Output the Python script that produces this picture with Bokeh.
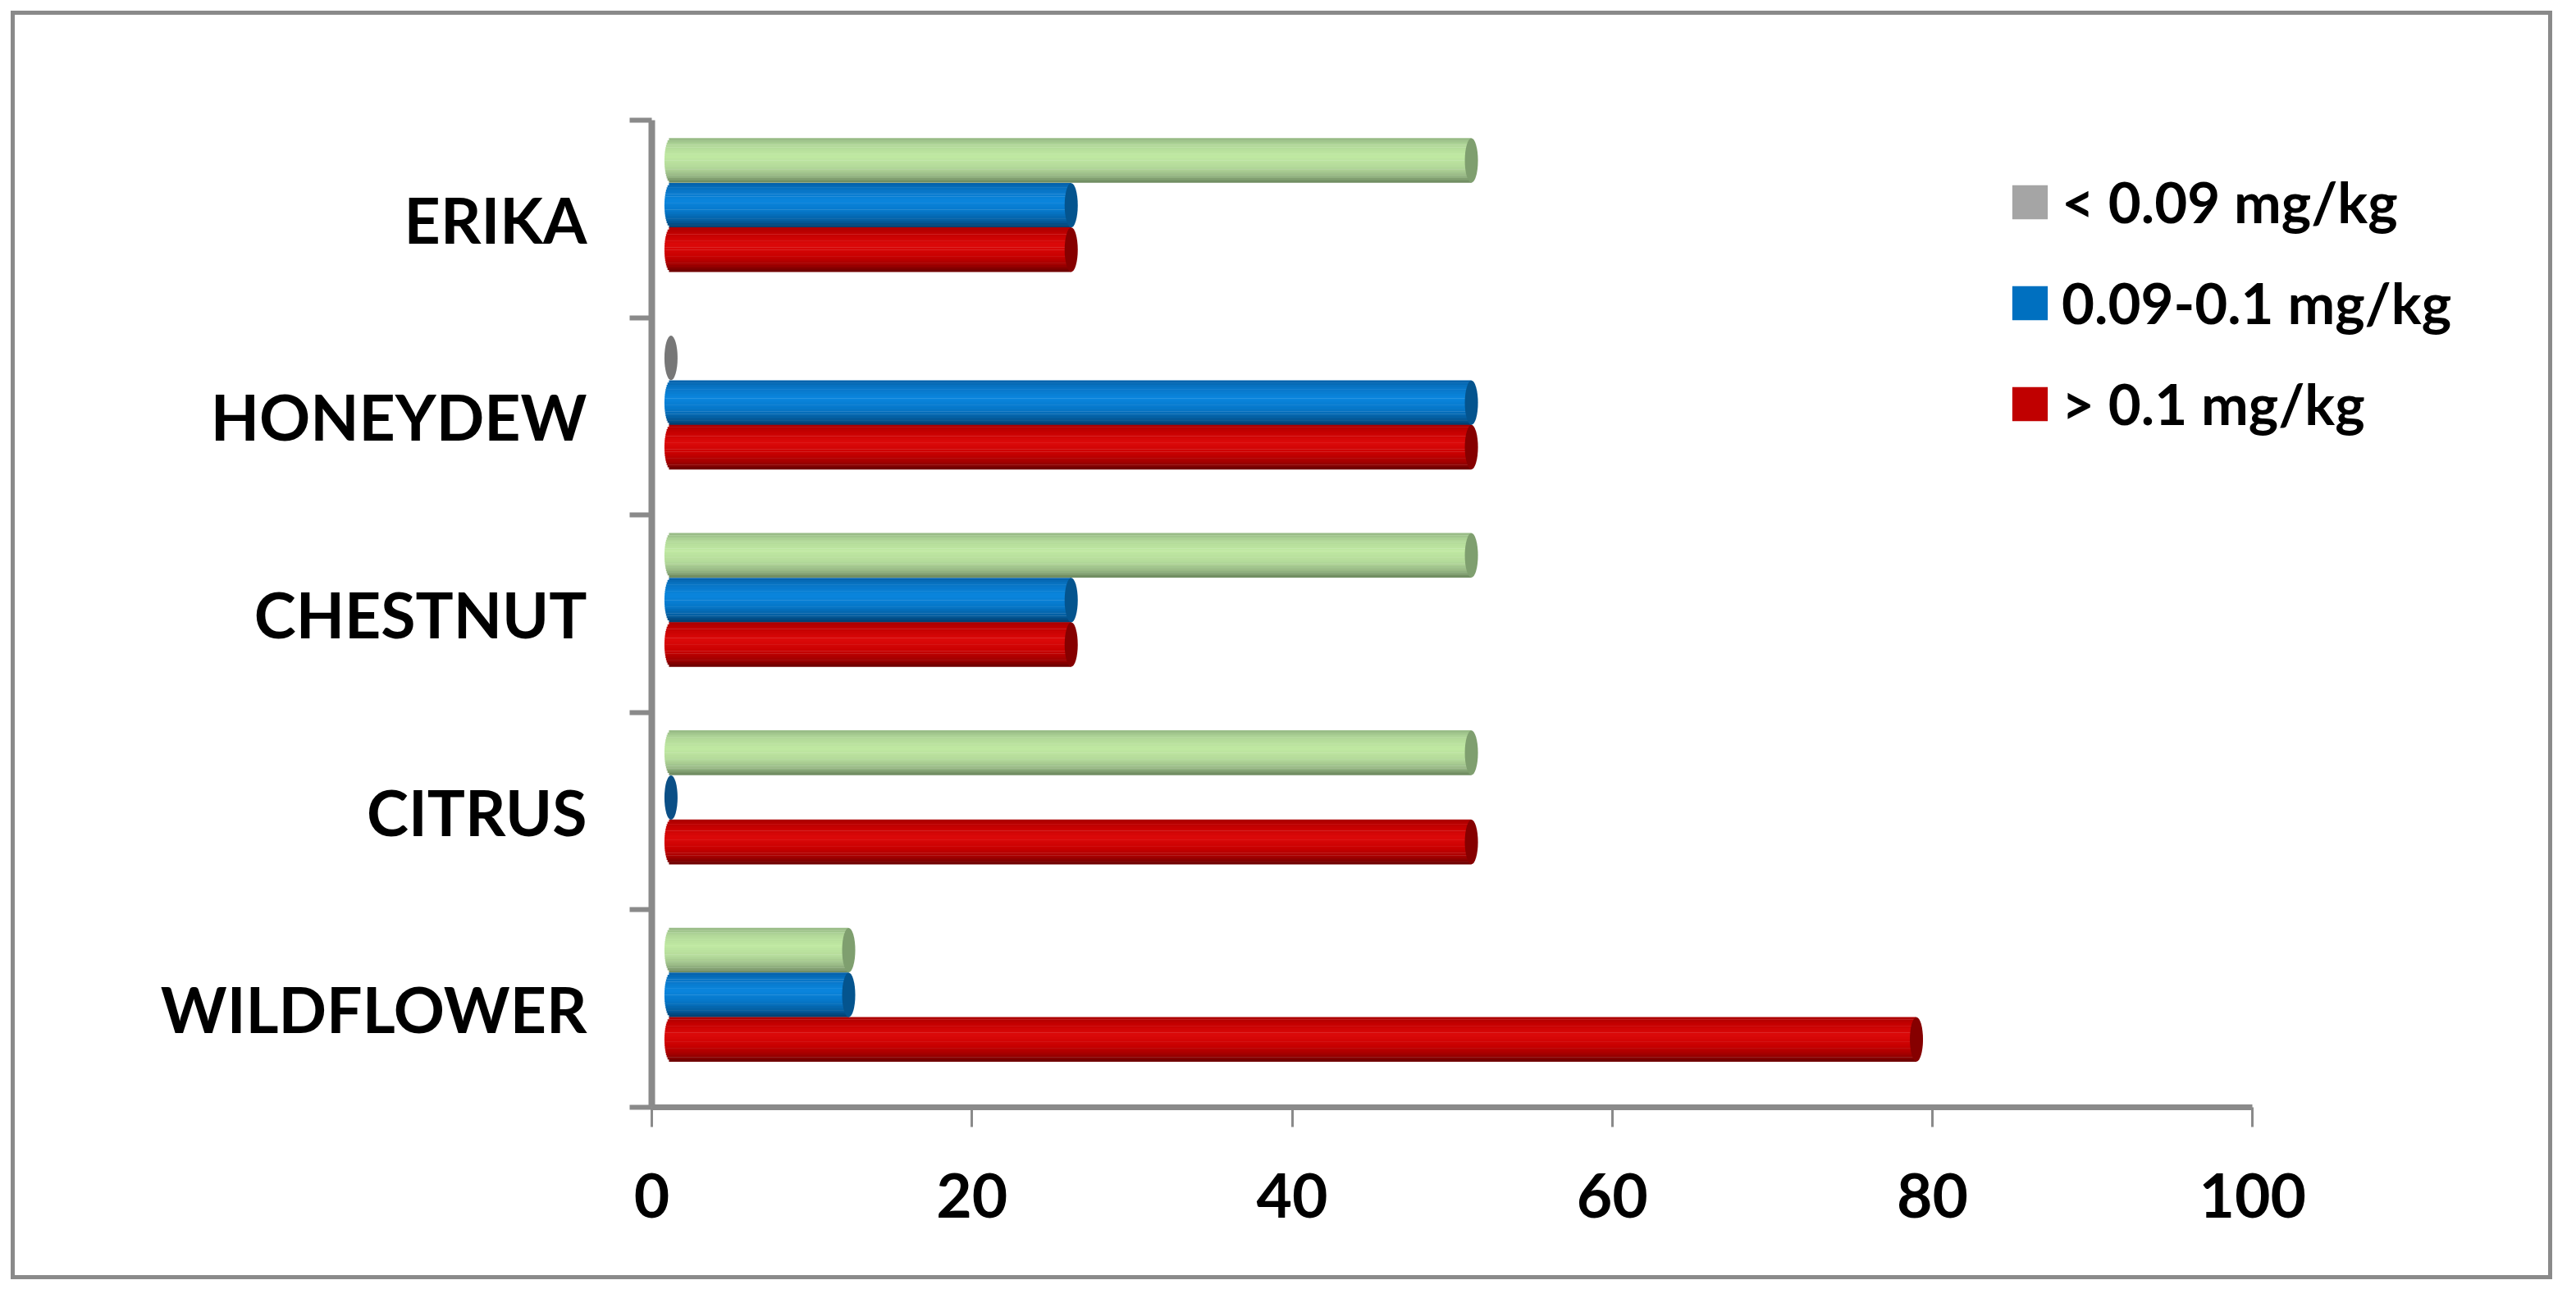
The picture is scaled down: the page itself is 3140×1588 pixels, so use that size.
import numpy as np
from bokeh.plotting import figure
from bokeh.models import (ColumnDataSource, FixedTicker, Legend, LegendItem, Range1d,
                          CustomJSTickFormatter)
from bokeh.embed import file_html
from bokeh.resources import INLINE

# ---------------- data ----------------
categories = ["WILDFLOWER", "CITRUS", "CHESTNUT", "HONEYDEW", "ERIKA"]  # bottom -> top
series_names = ["< 0.09 mg/kg", "0.09-0.1 mg/kg", "> 0.1 mg/kg"]
low_values = [11.1, 50, 50, 0, 50]     # < 0.09 mg/kg
mid_values = [11.1, 0, 25, 50, 25]     # 0.09-0.1 mg/kg
high_values = [77.8, 50, 25, 50, 25]   # > 0.1 mg/kg
x_ticks = [0, 20, 40, 60, 80, 100]

# ---------------- style ----------------
FONT = "Lato"
GRAY = "#8a8a8a"
DEPTH = 1.2           # 3-D offset of the bars (x units)
END_R = 0.41          # half-width of the cylinder end ellipse (x units)
BAR_H = 0.225         # bar thickness (category units)
OFFSETS = [0.296, 0.069, -0.156]   # bar centre offsets from band centre
N_STRIPS = 20
legend_colors = ["#a5a5a5", "#0070c0", "#c00000"]
cap_colors = ["#7f9f6f", "#04548e", "#860000"]
zero_cap_colors = ["#777777", "#0b4f86", "#860000"]
stops = [
    [(0, "#94b784"), (0.15, "#b0d698"), (0.4, "#c0e9a2"), (0.65, "#b4da9a"), (0.85, "#98b886"), (1, "#6b865c")],
    [(0, "#0560a8"), (0.15, "#0874c4"), (0.4, "#0a86de"), (0.65, "#0676c8"), (0.85, "#045ea0"), (1, "#023c6c")],
    [(0, "#a80000"), (0.15, "#c40000"), (0.4, "#dc0a0a"), (0.65, "#c80000"), (0.85, "#a00000"), (1, "#660000")],
]


def hex2rgb(h):
    return np.array([int(h[i:i + 2], 16) for i in (1, 3, 5)], float)


def grad(st, t):
    ts = [s[0] for s in st]
    cs = [hex2rgb(s[1]) for s in st]
    for i in range(len(ts) - 1):
        if ts[i] <= t <= ts[i + 1]:
            f = (t - ts[i]) / (ts[i + 1] - ts[i])
            c = cs[i] * (1 - f) + cs[i + 1] * f
            return "#%02x%02x%02x" % tuple(int(round(v)) for v in c)
    return st[-1][1]


all_series = [low_values, mid_values, high_values]

strip = dict(y=[], left=[], right=[], color=[])
caps = dict(x=[], y=[], color=[])
for s, vals in enumerate(all_series):
    for i, v in enumerate(vals):
        yc = i + 0.5 + OFFSETS[s]
        if v > 0:
            for k in range(N_STRIPS):
                t = (k + 0.5) / N_STRIPS
                strip["y"].append(yc + BAR_H / 2 - t * BAR_H)
                strip["left"].append(DEPTH - END_R * np.sqrt(max(0.0, 1 - (2 * t - 1) ** 2)))
                strip["right"].append(v + DEPTH)
                strip["color"].append(grad(stops[s], t))
        caps["x"].append(v + DEPTH)
        caps["y"].append(yc)
        caps["color"].append(cap_colors[s] if v > 0 else zero_cap_colors[s])

X_END = 115
p = figure(x_range=Range1d(0, X_END), y_range=Range1d(0, 5),
           frame_width=2244, frame_height=1203,
           min_border_left=794, min_border_right=86,
           min_border_top=146, min_border_bottom=223,
           output_backend="svg", toolbar_location=None,
           background_fill_color="white", border_fill_color="white",
           border_fill_alpha=0, outline_line_color=None)
p.styles = {"outline": "5px solid #8a8a8a", "outline-offset": "-18px"}
p.grid.visible = False

p.hbar(y="y", left="left", right="right", height=BAR_H / N_STRIPS * 1.15,
       fill_color="color", line_color=None, source=ColumnDataSource(strip))
p.ellipse(x="x", y="y", width=16, height=BAR_H, width_units="screen",
          fill_color="color", line_color=None, source=ColumnDataSource(caps))

# x axis
xa = p.xaxis[0]
xa.bounds = (x_ticks[0], x_ticks[-1])
xa.ticker = FixedTicker(ticks=x_ticks)
xa.axis_line_color = GRAY
xa.axis_line_width = 7
xa.major_tick_line_color = GRAY
xa.major_tick_line_width = 3
xa.major_tick_out = 24
xa.major_tick_in = 0
xa.minor_tick_line_color = None
xa.major_label_standoff = 56
xa.major_label_text_font = FONT
xa.major_label_text_font_style = "bold"
xa.major_label_text_font_size = "75px"
xa.major_label_text_color = "black"

# y axis
ya = p.yaxis[0]
ya.ticker = FixedTicker(ticks=[i + 0.5 for i in range(len(categories))],
                        minor_ticks=list(range(len(categories) + 1)))
ya.formatter = CustomJSTickFormatter(args=dict(cats=categories),
                                     code="return cats[Math.floor(tick)];")
ya.axis_line_color = GRAY
ya.axis_line_width = 8
ya.major_tick_line_color = None
ya.major_tick_out = 0
ya.major_tick_in = 0
ya.minor_tick_line_color = GRAY
ya.minor_tick_line_width = 6
ya.minor_tick_out = 27
ya.minor_tick_in = 0
ya.major_label_standoff = 52
ya.major_label_text_font = FONT
ya.major_label_text_font_style = "bold"
ya.major_label_text_font_size = "77px"
ya.major_label_text_color = "black"

# legend (proxy renderers of zero length, below the visible y range)
items = []
for name, col in zip(series_names, legend_colors):
    r = p.hbar(y=[-1], left=[0], right=[0], height=0.1, fill_color=col, line_color=None)
    items.append(LegendItem(label=name, renderers=[r]))
legend = Legend(items=items, location=(1653, 816), glyph_width=54, glyph_height=52,
                label_text_font=FONT, label_text_font_style="bold",
                label_text_font_size="69px", label_text_color="black",
                label_standoff=12, spacing=40,
                padding=0, margin=0, border_line_color=None,
                background_fill_alpha=0)
p.add_layout(legend)

open("out.html", "w").write(file_html(p, INLINE))
